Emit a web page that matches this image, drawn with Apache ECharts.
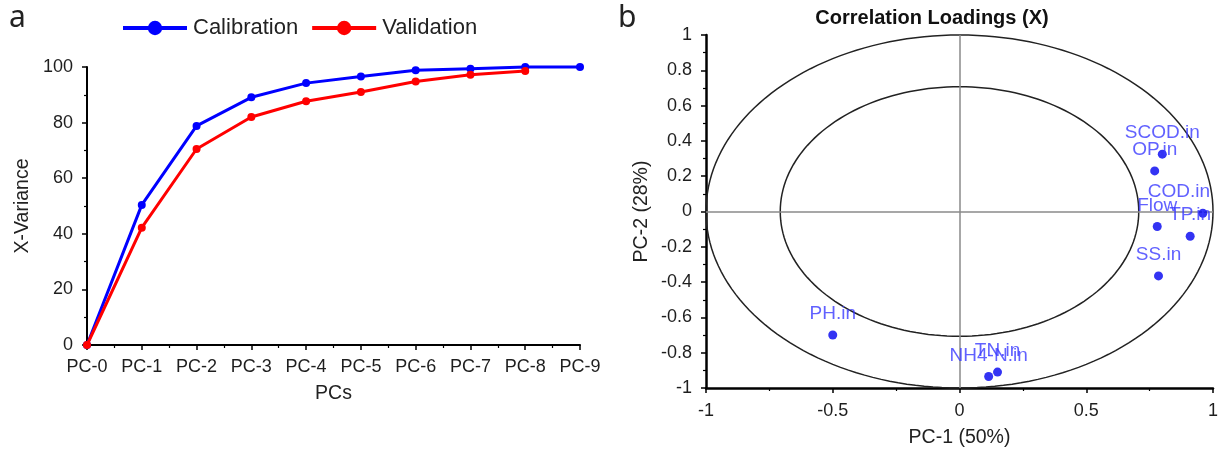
<!DOCTYPE html>
<html>
<head>
<meta charset="utf-8">
<script src="https://cdn.jsdelivr.net/npm/echarts@6/dist/echarts.min.js"></script>
<style>
html,body{margin:0;padding:0;background:#fff;}
#chart{width:1222px;height:453px;}
</style>
</head>
<body>
<div id="chart"></div>
<script>
// ---- Data: panel a (explained X-variance) ----
const categories = ['PC-0','PC-1','PC-2','PC-3','PC-4','PC-5','PC-6','PC-7','PC-8','PC-9'];
const calibration = [0, 50.4, 78.8, 89.1, 94.2, 96.6, 98.8, 99.4, 100, 100];
const validation  = [0, 42.2, 70.5, 82.0, 87.7, 91.0, 94.8, 97.2, 98.6];

// ---- Data: panel b (correlation loadings) ----
const loadingNames = ['SCOD.in','OP.in','COD.in','Flow','TP.in','SS.in','PH.in','NH4-N.in','TN.in'];
const pc1Loadings  = [0.80, 0.77, 0.96, 0.78, 0.91, 0.785, -0.50, 0.115, 0.15];
const pc2Loadings  = [0.325, 0.23, -0.01, -0.085, -0.14, -0.365, -0.70, -0.935, -0.91];
const circleRadii  = [1, 0.7071];

// label nudges (style only)
const labelNudge = { 'COD.in': [-24, 0] };

const FONT = 'Liberation Sans';
const chart = echarts.init(document.getElementById('chart'), null, {renderer:'canvas'});

const axisCommon = {
  axisLine: {show: true, onZero: false, lineStyle: {color: '#000', width: 2}},
  axisTick: {show: true, inside: false, length: 5, lineStyle: {color: '#000', width: 1.5}},
  minorTick: {show: true, splitNumber: 2, length: 3, lineStyle: {color: '#000', width: 1.2}},
  splitLine: {show: false},
  nameLocation: 'middle',
  nameTextStyle: {fontFamily: FONT, fontSize: 19.5, color: '#222'},
  axisLabel: {fontFamily: FONT, fontSize: 18, color: '#1e1e1e', margin: 14}
};

const scatterData = loadingNames.map((n, i) => {
  const item = {name: n, value: [pc1Loadings[i], pc2Loadings[i]]};
  if (labelNudge[n]) item.label = {offset: labelNudge[n]};
  return item;
});

const option = {
  animation: false,
  backgroundColor: '#fff',
  graphic: [
    {type: 'text', left: 9, top: 3, style: {text: 'a', fontFamily: 'Noto Sans', fontSize: 30, fill: '#222'}},
    {type: 'text', left: 618, top: 3, style: {text: 'b', fontFamily: 'Noto Sans', fontSize: 30, fill: '#222'}}
  ],
  title: {
    text: 'Correlation Loadings (X)',
    left: 927, top: 3, textAlign: 'center',
    textStyle: {fontFamily: FONT, fontWeight: 'bold', fontSize: 20, color: '#111'}
  },
  legend: {
    left: 116, top: 12,
    itemWidth: 64, itemHeight: 18, itemGap: 12,
    lineStyle: {width: 4},
    textStyle: {fontFamily: FONT, fontSize: 22, color: '#222', padding: [0,0,0,1]},
    data: ['Calibration', 'Validation']
  },
  grid: [
    {left: 87, top: 67, width: 493, height: 278},
    {left: 706, top: 35, width: 507, height: 357}
  ],
  xAxis: [
    Object.assign({}, axisCommon, {
      gridIndex: 0, type: 'value', min: 0, max: 9, interval: 1,
      name: 'PCs', nameGap: 39,
      axisLabel: Object.assign({}, axisCommon.axisLabel, {margin: 13, formatter: v => categories[v] || ''})
    }),
    Object.assign({}, axisCommon, {
      gridIndex: 1, type: 'value', min: -1, max: 1, interval: 0.5,
      name: 'PC-1 (50%)', nameGap: 40,
      axisLabel: Object.assign({}, axisCommon.axisLabel, {margin: 14}),
      axisLine: {show: true, onZero: false, lineStyle: {color: '#000', width: 2.5}}
    })
  ],
  yAxis: [
    Object.assign({}, axisCommon, {
      gridIndex: 0, type: 'value', min: 0, max: 100, interval: 20,
      name: 'X-Variance', nameGap: 54
    }),
    Object.assign({}, axisCommon, {
      gridIndex: 1, type: 'value', min: -1, max: 1, interval: 0.2,
      name: 'PC-2 (28%)', nameGap: 54,
      axisLine: {show: true, onZero: false, lineStyle: {color: '#000', width: 2.5}}
    })
  ],
  series: [
    {
      name: 'Calibration', type: 'line', xAxisIndex: 0, yAxisIndex: 0,
      data: calibration.map((v, i) => [i, v]),
      symbol: 'circle', symbolSize: 8,
      lineStyle: {color: '#0000ff', width: 3},
      itemStyle: {color: '#0000ff'},
      clip: false, z: 3
    },
    {
      name: 'Validation', type: 'line', xAxisIndex: 0, yAxisIndex: 0,
      data: validation.map((v, i) => [i, v]),
      symbol: 'circle', symbolSize: 8,
      lineStyle: {color: '#ff0000', width: 3},
      itemStyle: {color: '#ff0000'},
      clip: false, z: 4
    },
    {
      type: 'custom', xAxisIndex: 1, yAxisIndex: 1,
      data: [[0, 0]], silent: true, clip: false, z: 1,
      renderItem: function (params, api) {
        const children = circleRadii.map(r => {
          const pts = [];
          for (let k = 0; k <= 360; k += 2) {
            const a = k * Math.PI / 180;
            pts.push(api.coord([r * Math.cos(a), r * Math.sin(a)]));
          }
          return {type: 'polyline', shape: {points: pts}, style: {stroke: '#222', lineWidth: 1.5, fill: null}};
        });
        return {type: 'group', children: children};
      },
      markLine: {
        silent: true, symbol: ['none', 'none'],
        lineStyle: {color: '#8a8a8a', width: 1.5, type: 'solid'},
        label: {show: false},
        data: [{xAxis: 0}, {yAxis: 0}]
      }
    },
    {
      type: 'scatter', xAxisIndex: 1, yAxisIndex: 1,
      data: scatterData, symbolSize: 9, z: 5,
      itemStyle: {color: '#0000f0'},
      label: {
        show: true, position: 'top', distance: 7,
        formatter: p => p.name,
        fontFamily: FONT, fontSize: 19, color: '#3a3aff'
      },
      clip: false
    }
  ]
};
chart.setOption(option);
</script>
</body>
</html>
